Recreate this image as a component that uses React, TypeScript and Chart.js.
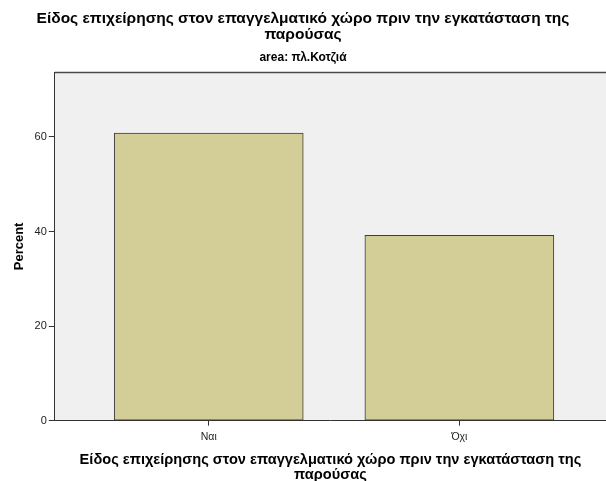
import React, { useEffect, useRef } from "react";
import { Chart, registerables } from "chart.js";

Chart.register(...registerables);

const titleLines = [
  "Είδος επιχείρησης στον επαγγελματικό χώρο πριν την εγκατάσταση της",
  "παρούσας",
];
const subtitleText = "area: πλ.Κοτζιά";
const categories = ["Ναι", "Όχι"];
const percentValues = [60.8, 39.2];
const yTicks = [0, 20, 40, 60];
const yAxisTitle = "Percent";
const xAxisTitle = [
  "Είδος επιχείρησης στον επαγγελματικό χώρο πριν την εγκατάσταση της",
  "παρούσας",
];

const FONT = "'Liberation Sans', Arial, sans-serif";

const framePlugin = {
  id: "spssFrame",
  beforeDraw(chart: any) {
    const { ctx, chartArea } = chart;
    ctx.save();
    ctx.fillStyle = "#F0F0F0";
    ctx.fillRect(chartArea.left, chartArea.top, chartArea.right - chartArea.left, chartArea.bottom - chartArea.top);
    ctx.strokeStyle = "#4a4a4a";
    ctx.lineWidth = 1.5;
    ctx.beginPath();
    ctx.moveTo(chartArea.left, chartArea.top + 0.5);
    ctx.lineTo(chartArea.right, chartArea.top + 0.5);
    ctx.stroke();
    ctx.restore();
  },
};

export default function App() {
  const ref = useRef<HTMLCanvasElement | null>(null);

  useEffect(() => {
    if (!ref.current) return;
    const chart = new Chart(ref.current, {
      type: "bar",
      data: {
        datasets: [
          {
            data: percentValues.map((v, i) => ({ x: i, y: v })),
            backgroundColor: "#D3CE97",
            borderColor: "#3c3c3c",
            borderWidth: 1,
            borderSkipped: false,
            barThickness: 189,
          },
        ],
      },
      options: {
        animation: false,
        responsive: false,
        devicePixelRatio: 1,
        layout: { padding: { left: 0, right: 0, top: 0, bottom: 0 } },
        plugins: {
          legend: { display: false },
          tooltip: { enabled: false },
          title: {
            display: true,
            text: titleLines,
            color: "#000",
            font: { family: FONT, size: 15.5, weight: "bold", lineHeight: 1.045 },
            padding: { top: 10.5, bottom: 0 },
          },
          subtitle: {
            display: true,
            text: subtitleText,
            color: "#000",
            font: { family: FONT, size: 12, weight: "bold", lineHeight: 1.2 },
            padding: { top: 8, bottom: 6.8 },
          },
        },
        scales: {
          x: {
            type: "linear",
            offset: false,
            min: -0.614,
            max: 1.585,
            afterBuildTicks: (scale: any) => {
              scale.ticks = categories.map((_, i) => ({ value: i }));
            },
            ticks: {
              callback: (v: any) => categories[v] ?? "",
              color: "#222",
              font: { family: FONT, size: 10.5 },
              padding: 5,
              maxRotation: 0,
              autoSkip: false,
            },
            grid: { offset: false, drawOnChartArea: false, drawTicks: true, tickLength: 5, color: "#333" },
            border: { display: true, color: "#333", width: 1 },
            title: {
              display: true,
              text: xAxisTitle,
              color: "#000",
              font: { family: FONT, size: 14.6, weight: "bold", lineHeight: 1.0 },
              padding: { top: 4.5, bottom: -1 },
            },
          },
          y: {
            type: "linear",
            min: 0,
            max: 73.7,
            afterBuildTicks: (scale: any) => {
              scale.ticks = yTicks.map((v) => ({ value: v }));
            },
            ticks: {
              color: "#222",
              font: { family: FONT, size: 11 },
              padding: 2,
            },
            grid: { drawOnChartArea: false, drawTicks: true, tickLength: 6, color: "#333" },
            border: { display: true, color: "#333", width: 1 },
            title: {
              display: true,
              text: yAxisTitle,
              color: "#000",
              font: { family: FONT, size: 13, weight: "bold", lineHeight: 1.2 },
              padding: { top: 12, bottom: 5 },
            },
          },
        },
      },
      plugins: [framePlugin],
    } as any);
    return () => chart.destroy();
  }, []);

  return (
    <div style={{ position: "fixed", left: 0, top: 0, width: 606, height: 481, background: "#fff" }}>
      <canvas ref={ref} width={606} height={481} style={{ display: "block" }} />
    </div>
  );
}
